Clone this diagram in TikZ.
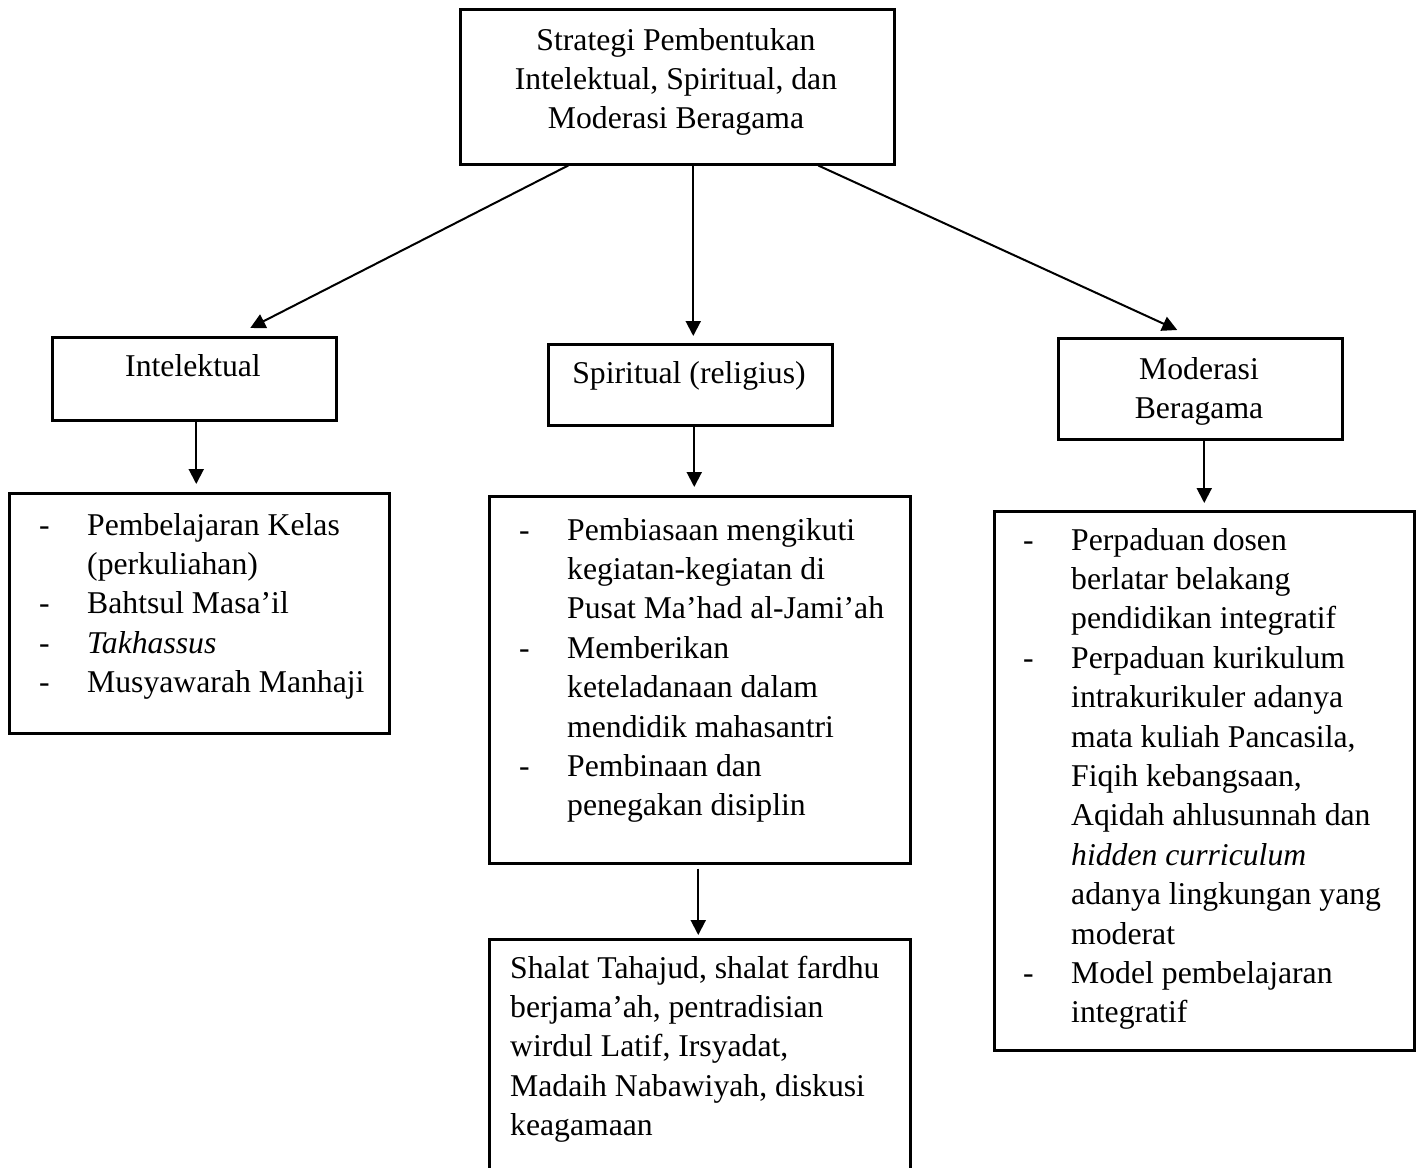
\documentclass[tikz,border=0pt]{standalone}
\usepackage{fontspec}
\setmainfont{Liberation Serif}
\usetikzlibrary{arrows.meta}
\tikzset{
  box/.style={draw, line width=2.5pt, rectangle, inner sep=0pt, anchor=north west},
  txt/.style={inner sep=0pt, font=\fontsize{31.7}{39.4}\selectfont},
  arr/.style={line width=2pt, -{Triangle[length=15pt,width=15pt]}},
}
\begin{document}
\begin{tikzpicture}[x=1pt,y=-1pt]
\useasboundingbox (0,0) rectangle (1421,1167);
\clip (0,0) rectangle (1421,1167);
\fill[white] (0,0) rectangle (1421,1167);

% boxes
\node[box, minimum width=434pt, minimum height=155pt] (top) at (459,8) {};
\node[box, minimum width=284pt, minimum height=83pt] (intel) at (51,336) {};
\node[box, minimum width=284pt, minimum height=81pt] (spirit) at (547,343) {};
\node[box, minimum width=284pt, minimum height=101pt] (moder) at (1057,337) {};
\node[box, minimum width=380pt, minimum height=240pt] (list1) at (8,492) {};
\node[box, minimum width=421pt, minimum height=367pt] (list2) at (488,495) {};
\node[box, minimum width=420pt, minimum height=539pt] (list3) at (993,510) {};
\node[box, minimum width=421pt, minimum height=260pt] (shalat) at (488,938) {};

% texts
\node[txt, anchor=base] (topT) at (676,50) {\begin{tabular}[t]{@{}c@{}}
Strategi Pembentukan\\
Intelektual, Spiritual, dan\\
Moderasi Beragama
\end{tabular}};
\node[txt, anchor=base] (intelT) at (193,376) {Intelektual};
\node[txt, anchor=base] (spiritT) at (689,383) {Spiritual (religius)};
\node[txt, anchor=base] (moderT) at (1199,379) {\begin{tabular}[t]{@{}c@{}}
Moderasi\\
Beragama
\end{tabular}};

\node[txt, anchor=base west] (list1T) at (39,535) {\begin{tabular}[t]{@{}p{48pt}@{}l@{}}
- & Pembelajaran Kelas\\
  & (perkuliahan)\\
- & Bahtsul Masa’il\\
- & \textit{Takhassus}\\
- & Musyawarah Manhaji
\end{tabular}};

\node[txt, anchor=base west] (list2T) at (519,540) {\begin{tabular}[t]{@{}p{48pt}@{}l@{}}
- & Pembiasaan mengikuti\\
  & kegiatan-kegiatan di\\
  & Pusat Ma’had al-Jami’ah\\
- & Memberikan\\
  & keteladanaan dalam\\
  & mendidik mahasantri\\
- & Pembinaan dan\\
  & penegakan disiplin
\end{tabular}};

\node[txt, anchor=base west] (list3T) at (1023,550) {\begin{tabular}[t]{@{}p{48pt}@{}l@{}}
- & Perpaduan dosen\\
  & berlatar belakang\\
  & pendidikan integratif\\
- & Perpaduan kurikulum\\
  & intrakurikuler adanya\\
  & mata kuliah Pancasila,\\
  & Fiqih kebangsaan,\\
  & Aqidah ahlusunnah dan\\
  & \textit{hidden curriculum}\\
  & adanya lingkungan yang\\
  & moderat\\
- & Model pembelajaran\\
  & integratif
\end{tabular}};

\node[txt, anchor=base west] (shalatT) at (510,978) {\begin{tabular}[t]{@{}l@{}}
Shalat Tahajud, shalat fardhu\\
berjama’ah, pentradisian\\
wirdul Latif, Irsyadat,\\
Madaih Nabawiyah, diskusi\\
keagamaan
\end{tabular}};

% connectors
\draw[arr] ([xshift=-109pt]top.south) -- ([xshift=56pt,yshift=8pt]intel.north);
\draw[arr] ([xshift=16pt]top.south) -- ([xshift=3pt,yshift=7pt]spirit.north);
\draw[arr] ([xshift=141pt]top.south) -- ([xshift=-23pt,yshift=7pt]moder.north);
\draw[arr] ([xshift=2pt,yshift=2pt]intel.south) -- ([xshift=-3pt,yshift=8pt]list1.north);
\draw[arr] ([xshift=4pt]spirit.south) -- ([xshift=-5.5pt,yshift=8pt]list2.north);
\draw[arr] ([xshift=4pt]moder.south) -- ([yshift=7pt]list3.north);
\draw[arr] ([xshift=-1.5pt,yshift=-4pt]list2.south) -- ([xshift=-1.5pt,yshift=3pt]shalat.north);
\end{tikzpicture}
\end{document}
